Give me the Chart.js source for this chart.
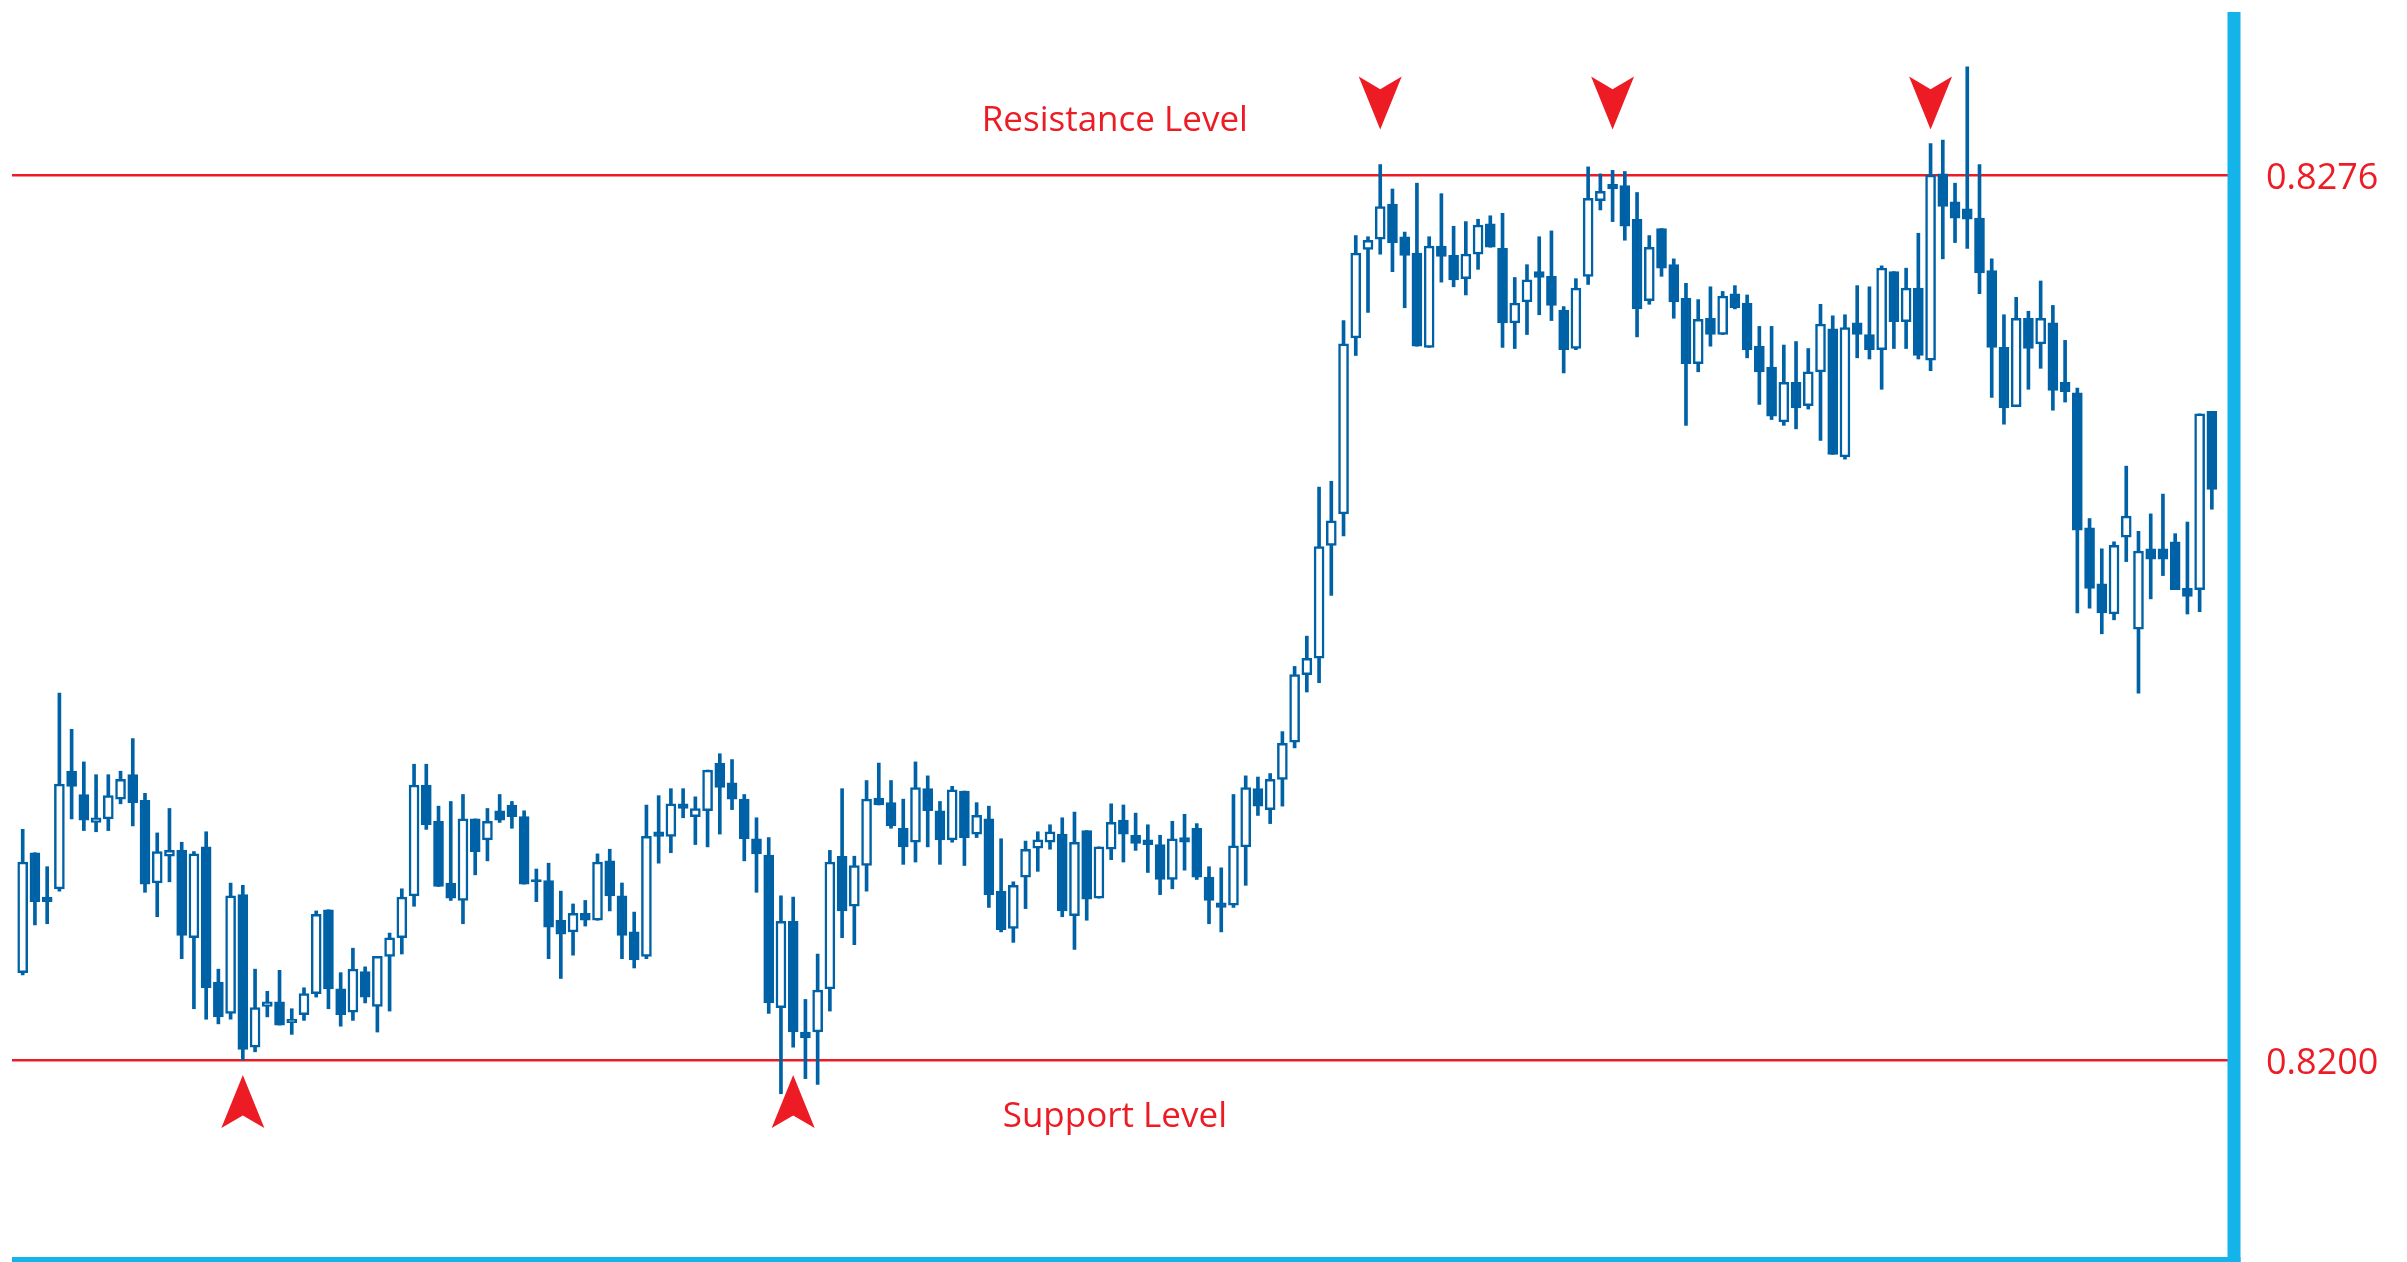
<!DOCTYPE html>
<html>
<head>
<meta charset="utf-8">
<title>Support and Resistance</title>
<script src="https://cdn.jsdelivr.net/npm/chart.js@4.4.1/dist/chart.umd.min.js"></script>
<style>
  html, body { margin: 0; padding: 0; background: #fff; }
  #wrap { width: 2407px; height: 1262px; }
</style>
</head>
<body>
<div id="wrap"><canvas id="chart"></canvas></div>
<script>
// candle values (one per bar, left to right)
var opens = [
  0.82075, 0.82178, 0.82140, 0.82147, 0.82248, 0.82228, 0.82204, 0.82207, 0.82224, 0.82245,
  0.82223, 0.82152, 0.82175, 0.82180, 0.82105, 0.82183, 0.82067, 0.82040, 0.82142, 0.82011,
  0.82046, 0.82050, 0.82032, 0.82039, 0.82057, 0.82129, 0.82061, 0.82041, 0.82076, 0.82046,
  0.82089, 0.82105, 0.82141, 0.82236, 0.82205, 0.82152, 0.82137, 0.82207, 0.82189, 0.82214,
  0.82219, 0.82209, 0.82155, 0.82154, 0.82120, 0.82110, 0.82126, 0.82120, 0.82171, 0.82141,
  0.82110, 0.82089, 0.82196, 0.82192, 0.82220, 0.82209, 0.82214, 0.82255, 0.82238, 0.82224,
  0.82190, 0.82176, 0.82045, 0.82119, 0.82024, 0.82024, 0.82061, 0.82175, 0.82132, 0.82167,
  0.82225, 0.82221, 0.82199, 0.82187, 0.82233, 0.82214, 0.82189, 0.82231, 0.82194, 0.82207,
  0.82145, 0.82113, 0.82157, 0.82182, 0.82187, 0.82194, 0.82124, 0.82197, 0.82139, 0.82181,
  0.82206, 0.82193, 0.82189, 0.82185, 0.82155, 0.82191, 0.82199, 0.82157, 0.82135, 0.82133,
  0.82183, 0.82233, 0.82215, 0.82241, 0.82273, 0.82331, 0.82345, 0.82442, 0.82469, 0.82620,
  0.82696, 0.82705, 0.82735, 0.82707, 0.82693, 0.82612, 0.82699, 0.82691, 0.82671, 0.82692,
  0.82718, 0.82697, 0.82633, 0.82651, 0.82677, 0.82673, 0.82644, 0.82611, 0.82673, 0.82738,
  0.82752, 0.82751, 0.82722, 0.82652, 0.82714, 0.82683, 0.82654, 0.82598, 0.82637, 0.82623,
  0.82658, 0.82650, 0.82613, 0.82595, 0.82548, 0.82582, 0.82562, 0.82591, 0.82628, 0.82518,
  0.82633, 0.82623, 0.82610, 0.82677, 0.82634, 0.82663, 0.82601, 0.82761, 0.82737, 0.82731,
  0.82723, 0.82678, 0.82612, 0.82561, 0.82637, 0.82615, 0.82633, 0.82582, 0.82573, 0.82457,
  0.82409, 0.82383, 0.82449, 0.82370, 0.82439, 0.82439, 0.82445, 0.82405, 0.82404, 0.82557
];
var highs = [
  0.82198, 0.82178, 0.82166, 0.82315, 0.82284, 0.82256, 0.82245, 0.82245, 0.82248, 0.82276,
  0.82229, 0.82195, 0.82216, 0.82187, 0.82179, 0.82196, 0.82078, 0.82152, 0.82150, 0.82078,
  0.82059, 0.82077, 0.82044, 0.82062, 0.82128, 0.82129, 0.82075, 0.82096, 0.82080, 0.82089,
  0.82109, 0.82147, 0.82254, 0.82254, 0.82218, 0.82222, 0.82228, 0.82207, 0.82216, 0.82228,
  0.82222, 0.82214, 0.82164, 0.82169, 0.82145, 0.82134, 0.82137, 0.82177, 0.82181, 0.82152,
  0.82127, 0.82219, 0.82227, 0.82233, 0.82233, 0.82226, 0.82249, 0.82263, 0.82258, 0.82228,
  0.82208, 0.82191, 0.82141, 0.82140, 0.82052, 0.82091, 0.82180, 0.82233, 0.82175, 0.82240,
  0.82255, 0.82240, 0.82224, 0.82256, 0.82244, 0.82222, 0.82235, 0.82231, 0.82221, 0.82218,
  0.82190, 0.82153, 0.82188, 0.82196, 0.82202, 0.82208, 0.82213, 0.82197, 0.82183, 0.82220,
  0.82219, 0.82212, 0.82202, 0.82193, 0.82205, 0.82211, 0.82203, 0.82166, 0.82165, 0.82228,
  0.82244, 0.82243, 0.82246, 0.82282, 0.82338, 0.82364, 0.82492, 0.82497, 0.82635, 0.82708,
  0.82707, 0.82769, 0.82748, 0.82711, 0.82753, 0.82707, 0.82744, 0.82716, 0.82720, 0.82722,
  0.82725, 0.82727, 0.82672, 0.82683, 0.82707, 0.82712, 0.82647, 0.82671, 0.82767, 0.82761,
  0.82764, 0.82763, 0.82745, 0.82708, 0.82714, 0.82688, 0.82667, 0.82653, 0.82664, 0.82660,
  0.82665, 0.82657, 0.82630, 0.82630, 0.82614, 0.82617, 0.82611, 0.82649, 0.82639, 0.82640,
  0.82665, 0.82664, 0.82682, 0.82677, 0.82680, 0.82710, 0.82787, 0.82790, 0.82753, 0.82853,
  0.82769, 0.82688, 0.82640, 0.82655, 0.82643, 0.82669, 0.82648, 0.82618, 0.82577, 0.82465,
  0.82439, 0.82445, 0.82510, 0.82454, 0.82469, 0.82486, 0.82452, 0.82462, 0.82555, 0.82557
];
var lows = [
  0.82073, 0.82116, 0.82117, 0.82145, 0.82207, 0.82197, 0.82196, 0.82197, 0.82220, 0.82201,
  0.82144, 0.82123, 0.82153, 0.82087, 0.82044, 0.82035, 0.82031, 0.82035, 0.82000, 0.82007,
  0.82037, 0.82030, 0.82022, 0.82034, 0.82054, 0.82044, 0.82029, 0.82034, 0.82049, 0.82024,
  0.82042, 0.82091, 0.82132, 0.82198, 0.82149, 0.82137, 0.82117, 0.82159, 0.82171, 0.82204,
  0.82199, 0.82151, 0.82136, 0.82087, 0.82070, 0.82090, 0.82115, 0.82120, 0.82128, 0.82087,
  0.82079, 0.82087, 0.82169, 0.82178, 0.82208, 0.82185, 0.82183, 0.82194, 0.82215, 0.82171,
  0.82144, 0.82040, 0.81971, 0.82011, 0.81984, 0.81979, 0.82042, 0.82105, 0.82099, 0.82145,
  0.82219, 0.82199, 0.82168, 0.82170, 0.82183, 0.82168, 0.82187, 0.82167, 0.82191, 0.82131,
  0.82110, 0.82101, 0.82130, 0.82162, 0.82181, 0.82123, 0.82095, 0.82120, 0.82139, 0.82172,
  0.82170, 0.82180, 0.82161, 0.82142, 0.82147, 0.82163, 0.82155, 0.82117, 0.82110, 0.82131,
  0.82150, 0.82210, 0.82203, 0.82218, 0.82268, 0.82316, 0.82324, 0.82399, 0.82450, 0.82605,
  0.82642, 0.82692, 0.82677, 0.82646, 0.82613, 0.82612, 0.82668, 0.82664, 0.82657, 0.82679,
  0.82698, 0.82612, 0.82611, 0.82623, 0.82640, 0.82635, 0.82590, 0.82610, 0.82666, 0.82730,
  0.82720, 0.82704, 0.82621, 0.82649, 0.82673, 0.82637, 0.82545, 0.82591, 0.82613, 0.82623,
  0.82645, 0.82603, 0.82563, 0.82550, 0.82545, 0.82542, 0.82559, 0.82532, 0.82520, 0.82516,
  0.82603, 0.82602, 0.82576, 0.82611, 0.82611, 0.82602, 0.82592, 0.82688, 0.82702, 0.82697,
  0.82658, 0.82569, 0.82546, 0.82561, 0.82576, 0.82594, 0.82558, 0.82565, 0.82384, 0.82388,
  0.82366, 0.82378, 0.82428, 0.82315, 0.82396, 0.82416, 0.82404, 0.82383, 0.82385, 0.82473
];
var closes = [
  0.82170, 0.82136, 0.82136, 0.82237, 0.82235, 0.82206, 0.82208, 0.82227, 0.82241, 0.82221,
  0.82151, 0.82179, 0.82180, 0.82107, 0.82177, 0.82062, 0.82037, 0.82141, 0.82009, 0.82045,
  0.82050, 0.82030, 0.82035, 0.82057, 0.82125, 0.82061, 0.82039, 0.82078, 0.82054, 0.82089,
  0.82105, 0.82140, 0.82236, 0.82202, 0.82149, 0.82139, 0.82207, 0.82179, 0.82205, 0.82206,
  0.82209, 0.82151, 0.82153, 0.82114, 0.82108, 0.82126, 0.82120, 0.82170, 0.82141, 0.82107,
  0.82086, 0.82192, 0.82192, 0.82220, 0.82216, 0.82216, 0.82249, 0.82234, 0.82224, 0.82190,
  0.82177, 0.82049, 0.82119, 0.82024, 0.82019, 0.82060, 0.82170, 0.82128, 0.82167, 0.82224,
  0.82219, 0.82201, 0.82183, 0.82234, 0.82214, 0.82189, 0.82232, 0.82191, 0.82210, 0.82142,
  0.82112, 0.82150, 0.82181, 0.82189, 0.82196, 0.82128, 0.82187, 0.82138, 0.82183, 0.82204,
  0.82194, 0.82186, 0.82185, 0.82155, 0.82190, 0.82187, 0.82157, 0.82137, 0.82131, 0.82184,
  0.82234, 0.82218, 0.82241, 0.82272, 0.82331, 0.82345, 0.82441, 0.82463, 0.82615, 0.82693,
  0.82704, 0.82733, 0.82702, 0.82691, 0.82613, 0.82699, 0.82690, 0.82670, 0.82692, 0.82717,
  0.82698, 0.82633, 0.82650, 0.82670, 0.82672, 0.82648, 0.82610, 0.82663, 0.82740, 0.82746,
  0.82748, 0.82716, 0.82645, 0.82698, 0.82680, 0.82651, 0.82598, 0.82636, 0.82623, 0.82656,
  0.82646, 0.82610, 0.82591, 0.82553, 0.82582, 0.82560, 0.82591, 0.82632, 0.82520, 0.82629,
  0.82623, 0.82610, 0.82680, 0.82634, 0.82663, 0.82605, 0.82760, 0.82733, 0.82723, 0.82722,
  0.82676, 0.82612, 0.82560, 0.82637, 0.82611, 0.82637, 0.82575, 0.82574, 0.82455, 0.82405,
  0.82384, 0.82442, 0.82467, 0.82437, 0.82430, 0.82430, 0.82404, 0.82398, 0.82555, 0.82490
];

// support / resistance levels shown on the right axis
var levels = [0.8200, 0.8276];

var BLUE = '#0062a6';
var RED = '#ed1c24';
var FRAME = '#14b3ea';
var FONT = '"Open Sans", "Noto Sans", sans-serif';

// notes and markers, placed by candle index and price
var levelNotes = [
  { text: 'Resistance Level', x: 89.3, y: 0.82806 },
  { text: 'Support Level', x: 89.3, y: 0.81951 }
];
var topMarks = [111, 130, 156];
var bottomMarks = [18, 63];
var topMarkTip = 0.82799;
var bottomMarkTip = 0.81987;

var wickData = opens.map(function (o, i) { return { x: i, y: [lows[i], highs[i]] }; });
var bodyData = opens.map(function (o, i) { return { x: i, y: [o, closes[i]] }; });

var overlay = {
    id: 'overlay',
    afterDatasetsDraw: function (chart) {
        var ctx = chart.ctx;
        var xs = chart.scales.x;
        var ys = chart.scales.y;
        var a = chart.chartArea;
        ctx.save();

        ctx.fillStyle = RED;
        ctx.font = '35px ' + FONT;
        ctx.textAlign = 'center';
        ctx.textBaseline = 'middle';
        levelNotes.forEach(function (n) {
            ctx.fillText(n.text, xs.getPixelForValue(n.x), ys.getPixelForValue(n.y));
        });

        // arrow: dir 1 points down, -1 points up
        function arrow(cx, tip, dir) {
            var w = 21.5, h = 53, notch = 12.7;
            ctx.beginPath();
            ctx.moveTo(cx, tip);
            ctx.lineTo(cx - w, tip - dir * h);
            ctx.lineTo(cx, tip - dir * (h - notch));
            ctx.lineTo(cx + w, tip - dir * h);
            ctx.closePath();
            ctx.fill();
        }
        topMarks.forEach(function (i) {
            arrow(xs.getPixelForValue(i), ys.getPixelForValue(topMarkTip), 1);
        });
        bottomMarks.forEach(function (i) {
            arrow(xs.getPixelForValue(i), ys.getPixelForValue(bottomMarkTip), -1);
        });

        // blue frame on the right and bottom
        ctx.fillStyle = FRAME;
        ctx.fillRect(a.right - 6.5, a.top, 13, chart.height - a.top);
        ctx.fillRect(a.left, a.bottom, a.right + 6.5 - a.left, chart.height - a.bottom);
        ctx.restore();
    }
};

var ctx = document.getElementById('chart').getContext('2d');
new Chart(ctx, {
    type: 'bar',
    data: {
        datasets: [{
            label: 'Body',
            data: bodyData,
            order: 1,
            grouped: false,
            barThickness: 10,
            borderWidth: 2.5,
            borderSkipped: false,
            borderColor: BLUE,
            backgroundColor: function (c) {
                var i = c.dataIndex;
                return closes[i] >= opens[i] ? '#ffffff' : BLUE;
            }
        }, {
            label: 'Wick',
            data: wickData,
            order: 2,
            grouped: false,
            barThickness: 3,
            borderWidth: 0,
            backgroundColor: BLUE
        }]
    },
    options: {
        responsive: true,
        maintainAspectRatio: false,
        animation: false,
        layout: { padding: { left: 12, top: 12, right: 0, bottom: 5 } },
        plugins: {
            legend: { display: false },
            tooltip: { enabled: false }
        },
        scales: {
            x: {
                type: 'linear',
                display: false,
                offset: false,
                min: -0.875,
                max: 180.81
            },
            y: {
                position: 'right',
                min: 0.818308,
                max: 0.829,
                afterBuildTicks: function (s) {
                    s.ticks = levels.map(function (v) { return { value: v }; });
                },
                afterFit: function (s) {
                    s.width = 173;
                    s.paddingTop = 0;
                    s.paddingBottom = 0;
                },
                border: { display: false },
                grid: { color: RED, lineWidth: 2.5, drawTicks: false },
                ticks: {
                    color: RED,
                    padding: 32,
                    labelOffset: 4,
                    font: { family: FONT, size: 36 },
                    callback: function (v) { return Number(v).toFixed(4); }
                }
            }
        }
    },
    plugins: [overlay]
});
</script>
</body>
</html>
